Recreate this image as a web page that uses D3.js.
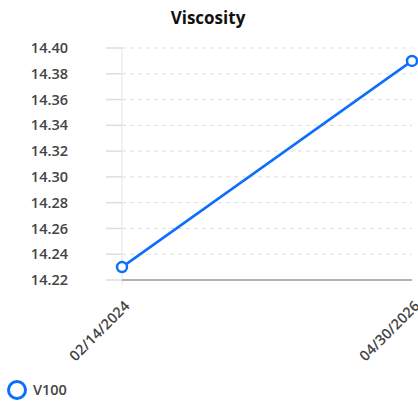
<!DOCTYPE html>
<html><head><meta charset="utf-8">
<script src="https://cdn.jsdelivr.net/npm/d3@7"></script>
<style>body{margin:0;background:#fff;font-family:"Open Sans",sans-serif}</style>
</head><body><svg id="c" width="418" height="406"></svg>
<script>
const title = "Viscosity";
const categories = ["02/14/2024", "04/30/2026"];
const seriesName = "V100";
const values = [14.23, 14.39];
const yTicks = [14.22, 14.24, 14.26, 14.28, 14.30, 14.32, 14.34, 14.36, 14.38, 14.40];

const svg = d3.select("#c");
const m = {l: 122, r: 412, t: 48, b: 280};
const x = d3.scalePoint().domain(categories).range([m.l, m.r]);
const y = d3.scaleLinear().domain([14.22, 14.40]).range([m.b, m.t]);
const blue = "#0d6efd";
const txt = "#444";

svg.append("text").attr("x", 208).attr("y", 24).attr("text-anchor", "middle")
  .attr("font-size", 17).attr("font-weight", 700).attr("fill", "#111").text(title);

// grid
const g = svg.append("g");
yTicks.forEach(t => {
  g.append("line").attr("x1", 106).attr("x2", m.l).attr("y1", y(t)).attr("y2", y(t))
    .attr("stroke", "#ddd").attr("stroke-width", 1.5);
  if (t !== 14.22) g.append("line").attr("x1", m.l).attr("x2", m.r).attr("y1", y(t)).attr("y2", y(t))
    .attr("stroke", "#ddd").attr("stroke-width", 1).attr("stroke-dasharray", "4,4");
});
g.append("line").attr("x1", m.l).attr("x2", m.l).attr("y1", m.t).attr("y2", m.b + 5)
  .attr("stroke", "#e3e3e3").attr("stroke-width", 1);
g.append("line").attr("x1", m.l).attr("x2", m.r).attr("y1", m.b).attr("y2", m.b)
  .attr("stroke", "#999").attr("stroke-width", 1.5);

// y labels
const yAxis = d3.axisLeft(y).tickValues(yTicks).tickFormat(d3.format(".2f")).tickSize(0).tickPadding(0);
const ya = svg.append("g").attr("transform", "translate(68,0)").call(yAxis);
ya.select(".domain").remove();
ya.selectAll("text").attr("font-size", 14.5).attr("font-weight", 600).attr("fill", txt)
  .attr("font-family", "Open Sans");

// x labels
const xAxis = d3.axisBottom(x).tickSize(0).tickPadding(0);
const xa = svg.append("g").attr("transform", `translate(0,${m.b})`).call(xAxis);
xa.select(".domain").remove();
xa.selectAll("text").attr("font-size", 14.5).attr("font-weight", 600).attr("fill", txt)
  .attr("font-family", "Open Sans").attr("text-anchor", "end").attr("y", 0).attr("dy", 0)
  .attr("transform", "translate(8,27) rotate(-45)");

// line
const data = categories.map((c, i) => ({c, v: values[i]}));
svg.append("path").datum(data).attr("fill", "none").attr("stroke", blue).attr("stroke-width", 2.5)
  .attr("d", d3.line().x(d => x(d.c)).y(d => y(d.v)));
svg.selectAll(".pt").data(data).enter().append("circle")
  .attr("cx", d => x(d.c)).attr("cy", d => y(d.v)).attr("r", 5)
  .attr("fill", "#fff").attr("stroke", blue).attr("stroke-width", 2.5);

// legend
svg.append("circle").attr("cx", 17).attr("cy", 390).attr("r", 8.5).attr("fill", "#fff")
  .attr("stroke", blue).attr("stroke-width", 3);
svg.append("text").attr("x", 33).attr("y", 395).attr("font-size", 14.5).attr("font-weight", 600)
  .attr("fill", txt).text(seriesName);
</script></body></html>
